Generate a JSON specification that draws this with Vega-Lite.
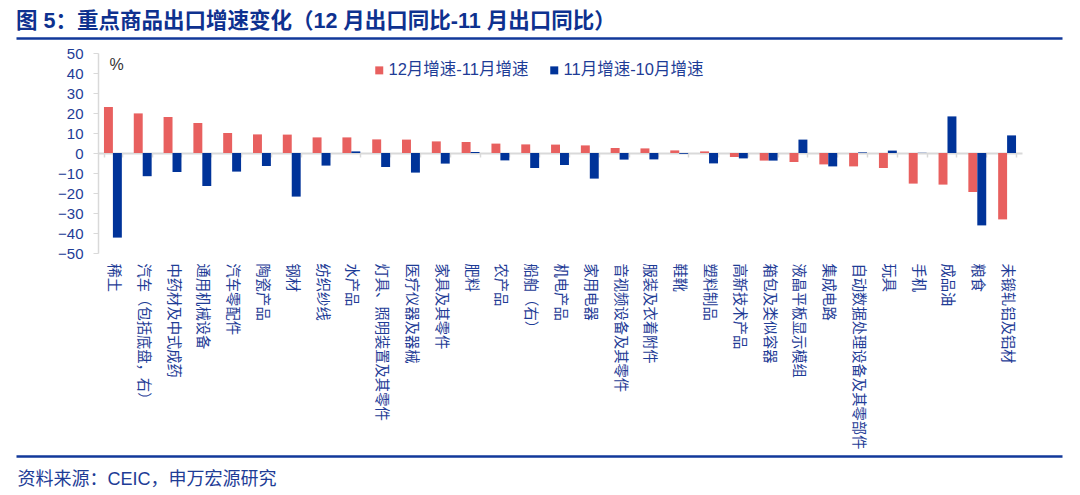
{
  "$schema": "https://vega.github.io/schema/vega-lite/v6.json",
  "width": 1046,
  "height": 418,
  "autosize": {"type": "none"},
  "padding": {"left": 16, "top": 38, "right": 18, "bottom": 39},
  "background": "white",
  "title": {
    "text": "图 5：重点商品出口增速变化（12 月出口同比-11 月出口同比）",
    "anchor": "start",
    "frame": "group",
    "font": "Liberation Sans, Noto Sans CJK SC",
    "fontSize": 21.5,
    "fontWeight": "bold",
    "color": "#0E318F",
    "offset": 6
  },
  "config": {
    "view": {"stroke": null},
    "font": "Liberation Sans, Noto Sans CJK SC"
  },
  "datasets": {
    "d": [
      {"cat": "稀土", "series": "12月增速-11月增速", "value": 23.0},
      {"cat": "稀土", "series": "11月增速-10月增速", "value": -42.3},
      {"cat": "汽车（包括底盘，右）", "series": "12月增速-11月增速", "value": 19.8},
      {"cat": "汽车（包括底盘，右）", "series": "11月增速-10月增速", "value": -11.6},
      {"cat": "中药材及中式成药", "series": "12月增速-11月增速", "value": 18.0},
      {"cat": "中药材及中式成药", "series": "11月增速-10月增速", "value": -9.5},
      {"cat": "通用机械设备", "series": "12月增速-11月增速", "value": 15.0},
      {"cat": "通用机械设备", "series": "11月增速-10月增速", "value": -16.5},
      {"cat": "汽车零配件", "series": "12月增速-11月增速", "value": 10.0},
      {"cat": "汽车零配件", "series": "11月增速-10月增速", "value": -9.3},
      {"cat": "陶瓷产品", "series": "12月增速-11月增速", "value": 9.3},
      {"cat": "陶瓷产品", "series": "11月增速-10月增速", "value": -6.5},
      {"cat": "钢材", "series": "12月增速-11月增速", "value": 9.2},
      {"cat": "钢材", "series": "11月增速-10月增速", "value": -21.8},
      {"cat": "纺织纱线", "series": "12月增速-11月增速", "value": 7.8},
      {"cat": "纺织纱线", "series": "11月增速-10月增速", "value": -6.3},
      {"cat": "水产品", "series": "12月增速-11月增速", "value": 7.8},
      {"cat": "水产品", "series": "11月增速-10月增速", "value": 0.8},
      {"cat": "灯具、照明装置及其零件", "series": "12月增速-11月增速", "value": 6.8},
      {"cat": "灯具、照明装置及其零件", "series": "11月增速-10月增速", "value": -7.0},
      {"cat": "医疗仪器及器械", "series": "12月增速-11月增速", "value": 6.7},
      {"cat": "医疗仪器及器械", "series": "11月增速-10月增速", "value": -9.8},
      {"cat": "家具及其零件", "series": "12月增速-11月增速", "value": 5.8},
      {"cat": "家具及其零件", "series": "11月增速-10月增速", "value": -5.3},
      {"cat": "肥料", "series": "12月增速-11月增速", "value": 5.5},
      {"cat": "肥料", "series": "11月增速-10月增速", "value": 0.5},
      {"cat": "农产品", "series": "12月增速-11月增速", "value": 4.7},
      {"cat": "农产品", "series": "11月增速-10月增速", "value": -3.7},
      {"cat": "船舶（右）", "series": "12月增速-11月增速", "value": 4.3},
      {"cat": "船舶（右）", "series": "11月增速-10月增速", "value": -7.5},
      {"cat": "机电产品", "series": "12月增速-11月增速", "value": 4.2},
      {"cat": "机电产品", "series": "11月增速-10月增速", "value": -6.0},
      {"cat": "家用电器", "series": "12月增速-11月增速", "value": 3.8},
      {"cat": "家用电器", "series": "11月增速-10月增速", "value": -12.8},
      {"cat": "音视频设备及其零件", "series": "12月增速-11月增速", "value": 2.5},
      {"cat": "音视频设备及其零件", "series": "11月增速-10月增速", "value": -3.3},
      {"cat": "服装及衣着附件", "series": "12月增速-11月增速", "value": 2.3},
      {"cat": "服装及衣着附件", "series": "11月增速-10月增速", "value": -3.2},
      {"cat": "鞋靴", "series": "12月增速-11月增速", "value": 1.3},
      {"cat": "鞋靴", "series": "11月增速-10月增速", "value": -0.4},
      {"cat": "塑料制品", "series": "12月增速-11月增速", "value": 0.8},
      {"cat": "塑料制品", "series": "11月增速-10月增速", "value": -5.2},
      {"cat": "高新技术产品", "series": "12月增速-11月增速", "value": -2.0},
      {"cat": "高新技术产品", "series": "11月增速-10月增速", "value": -2.7},
      {"cat": "箱包及类似容器", "series": "12月增速-11月增速", "value": -3.8},
      {"cat": "箱包及类似容器", "series": "11月增速-10月增速", "value": -3.8},
      {"cat": "液晶平板显示模组", "series": "12月增速-11月增速", "value": -4.5},
      {"cat": "液晶平板显示模组", "series": "11月增速-10月增速", "value": 6.7},
      {"cat": "集成电路", "series": "12月增速-11月增速", "value": -5.7},
      {"cat": "集成电路", "series": "11月增速-10月增速", "value": -6.7},
      {"cat": "自动数据处理设备及其零部件", "series": "12月增速-11月增速", "value": -6.7},
      {"cat": "自动数据处理设备及其零部件", "series": "11月增速-10月增速", "value": 0.3},
      {"cat": "玩具", "series": "12月增速-11月增速", "value": -7.5},
      {"cat": "玩具", "series": "11月增速-10月增速", "value": 1.2},
      {"cat": "手机", "series": "12月增速-11月增速", "value": -15.3},
      {"cat": "手机", "series": "11月增速-10月增速", "value": 0.1},
      {"cat": "成品油", "series": "12月增速-11月增速", "value": -15.8},
      {"cat": "成品油", "series": "11月增速-10月增速", "value": 18.3},
      {"cat": "粮食", "series": "12月增速-11月增速", "value": -19.5},
      {"cat": "粮食", "series": "11月增速-10月增速", "value": -36.2},
      {"cat": "未锻轧铝及铝材", "series": "12月增速-11月增速", "value": -33.2},
      {"cat": "未锻轧铝及铝材", "series": "11月增速-10月增速", "value": 8.8}
    ]
  },
  "layer": [
    {
      "data": {"name": "d"},
      "mark": {"type": "bar"},
      "encoding": {
        "x": {
          "field": "cat",
          "type": "nominal",
          "sort": null,
          "scale": {"range": [82, 1006], "paddingInner": 0.4, "paddingOuter": 0.2},
          "axis": {
            "orient": "bottom",
            "offset": -203,
            "domain": false,
            "ticks": false,
            "tickSize": 0,
            "grid": false,
            "labelAngle": 90,
            "labelAlign": "left",
            "labelBaseline": "middle",
            "labelPadding": 10,
            "labelFontSize": 14.3,
            "labelColor": "#1E3C96",
            "labelFont": "Noto Sans CJK SC",
            "labelLimit": 0,
            "labelOverlap": false,
            "title": null
          }
        },
        "xOffset": {
          "field": "series",
          "type": "nominal",
          "sort": null,
          "scale": {"paddingInner": 0, "paddingOuter": 0}
        },
        "y": {
          "field": "value",
          "type": "quantitative",
          "scale": {"domain": [-50, 50], "range": [215, 15], "nice": false},
          "axis": {
            "orient": "left",
            "offset": -82,
            "values": [-50, -40, -30, -20, -10, 0, 10, 20, 30, 40, 50],
            "grid": false,
            "domainColor": "#D9D9D9",
            "domainWidth": 1.5,
            "tickColor": "#D9D9D9",
            "tickSize": 5,
            "tickWidth": 1,
            "labelColor": "#1E3C96",
            "labelFontSize": 15,
            "labelPadding": 10,
            "labelFont": "Liberation Sans",
            "title": "%",
            "titleAngle": 0,
            "titleX": 18,
            "titleY": 26,
            "titleAlign": "center",
            "titleBaseline": "middle",
            "titleFontSize": 16,
            "titleFontWeight": "normal",
            "titleColor": "#333333",
            "titleFont": "Liberation Sans"
          }
        },
        "color": {
          "field": "series",
          "type": "nominal",
          "sort": null,
          "scale": {
            "domain": ["12月增速-11月增速", "11月增速-10月增速"],
            "range": ["#E8605F", "#003399"]
          },
          "legend": {
            "title": null,
            "orient": "none",
            "legendX": 355,
            "legendY": 24,
            "direction": "horizontal",
            "symbolType": "square",
            "symbolSize": 64,
            "symbolStrokeWidth": 0,
            "labelFontSize": 16.5,
            "labelColor": "#1E3C96",
            "labelOffset": 1,
            "columnPadding": 17,
            "padding": 0,
            "labelFont": "Liberation Sans, Noto Sans CJK SC",
            "labelLimit": 0
          }
        }
      }
    },
    {
      "data": {"name": "d"},
      "mark": {"type": "point", "opacity": 0},
      "encoding": {
        "x": {
          "field": "cat",
          "type": "nominal",
          "sort": null,
          "scale": {"range": [82, 1006], "paddingInner": 0.4, "paddingOuter": 0.2},
          "axis": {
            "orient": "bottom",
            "offset": -303,
            "labels": false,
            "domain": true,
            "domainColor": "#D9D9D9",
            "domainWidth": 2,
            "ticks": true,
            "tickColor": "#D9D9D9",
            "tickSize": 4,
            "tickWidth": 1.5,
            "tickBand": "extent",
            "grid": false,
            "title": null
          }
        },
        "y": {"field": "value", "type": "quantitative"}
      }
    },
    {
      "data": {"values": [{"h": 0}]},
      "mark": {"type": "point", "opacity": 0},
      "encoding": {
        "x": {
          "field": "h",
          "type": "quantitative",
          "scale": {"domain": [0, 1]},
          "axis": {
            "orient": "top",
            "labels": false,
            "ticks": false,
            "grid": false,
            "title": null,
            "domainColor": "#12389A",
            "domainWidth": 2.5
          }
        }
      }
    },
    {
      "data": {"values": [{"f": 0}]},
      "mark": {"type": "point", "opacity": 0},
      "encoding": {
        "x": {
          "field": "f",
          "type": "quantitative",
          "scale": {"domain": [0, 1]},
          "axis": {
            "orient": "bottom",
            "labels": false,
            "ticks": false,
            "grid": false,
            "domainColor": "#12389A",
            "domainWidth": 2.5,
            "title": "资料来源：CEIC，申万宏源研究",
            "titleX": 1,
            "titleY": 23,
            "titleAlign": "left",
            "titleBaseline": "middle",
            "titleAnchor": null,
            "titleFontSize": 18,
            "titleFontWeight": "normal",
            "titleColor": "#1E3C96",
            "titleFont": "Liberation Sans, Noto Sans CJK SC"
          }
        }
      }
    }
  ],
  "resolve": {"scale": {"x": "independent"}, "axis": {"x": "independent"}}
}
